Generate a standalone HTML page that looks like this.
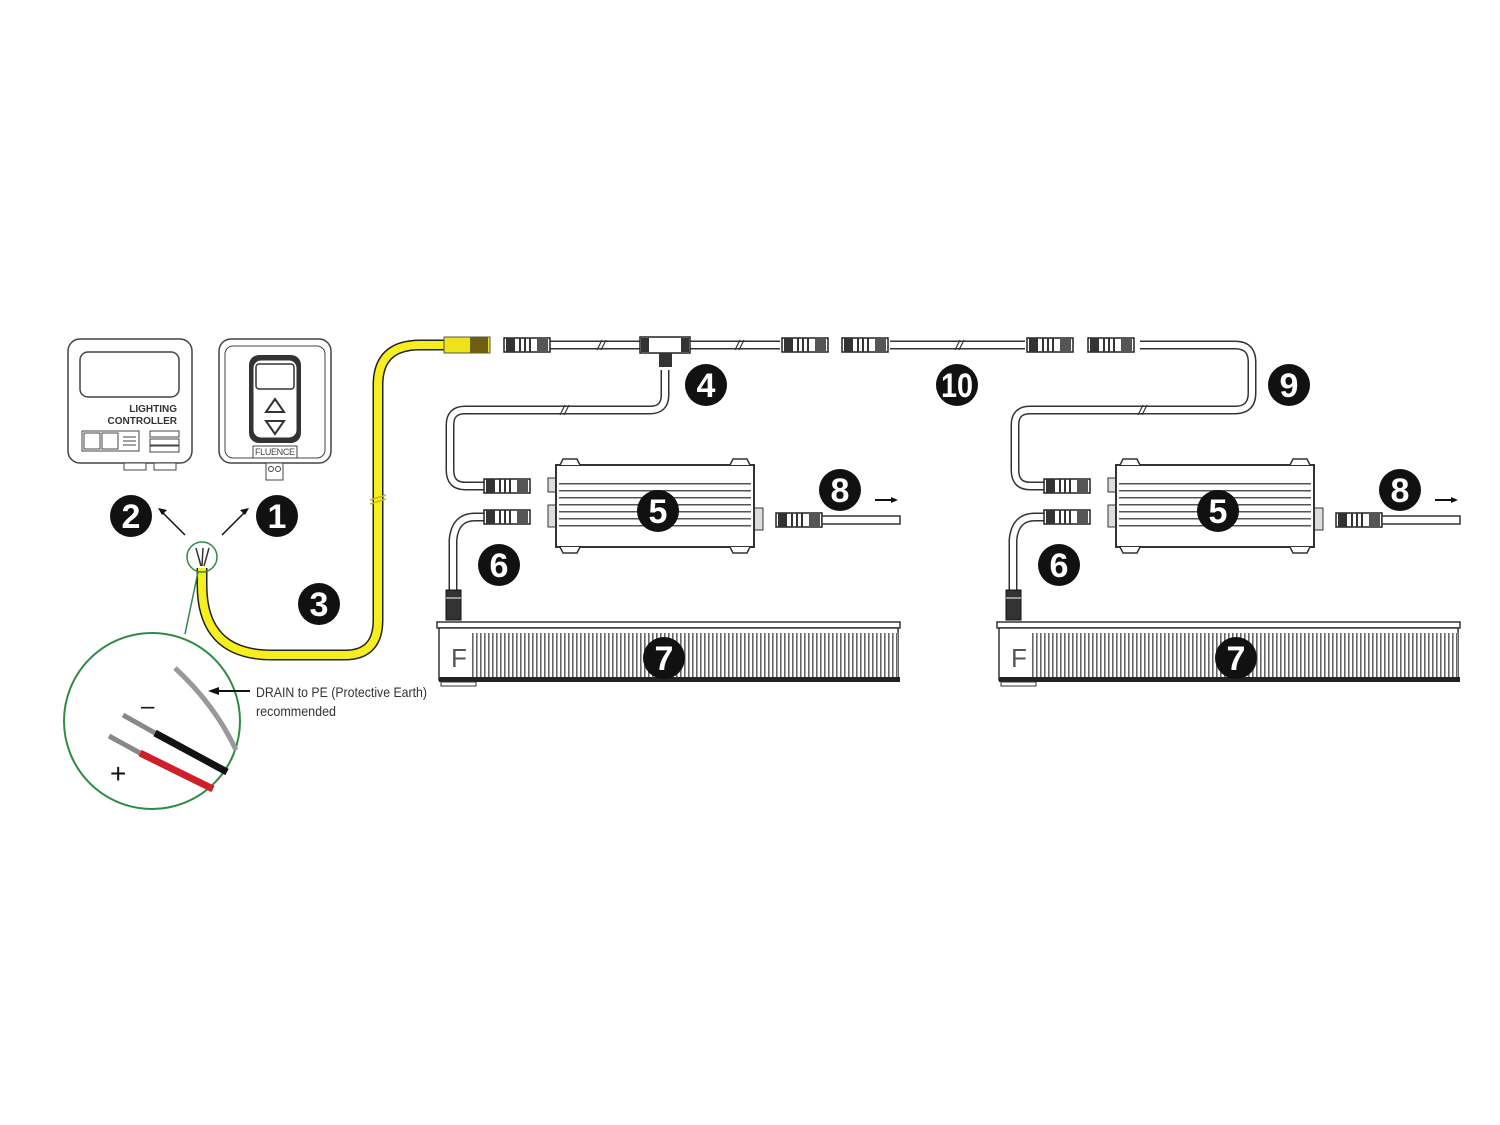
<!DOCTYPE html>
<html><head><meta charset="utf-8"><style>
html,body{margin:0;padding:0;background:#fff;}
svg{display:block;}
text{font-family:"Liberation Sans Narrow","Liberation Sans",sans-serif;}
</style></head><body>
<svg width="1500" height="1125" viewBox="0 0 1500 1125" xmlns="http://www.w3.org/2000/svg">
<defs>
<pattern id="fins" width="4" height="10" patternUnits="userSpaceOnUse"><rect width="4" height="10" fill="#fff"/><rect width="1.6" height="10" fill="#666"/></pattern>
<pattern id="hfins" width="10" height="7" patternUnits="userSpaceOnUse"><rect width="10" height="7" fill="#fff"/><rect width="10" height="1.5" fill="#555"/></pattern>
<g id="conn"><rect x="0" y="-7" width="46" height="14" fill="#fff" stroke="#222" stroke-width="1.5"/><rect x="2" y="-7" width="9" height="14" fill="#333"/><rect x="15" y="-7" width="2" height="14" fill="#333"/><rect x="20" y="-7" width="2" height="14" fill="#333"/><rect x="25" y="-7" width="2" height="14" fill="#333"/><rect x="33" y="-7" width="11" height="14" fill="#555"/></g>
<g id="badge"><circle r="21" fill="#111"/></g>
<g id="set">
 <use href="#conn" x="484" y="486"/>
 <!-- cable 6 -->
 <path d="M488,517 H475 Q455,517 453,540 V592" fill="none" stroke="#333" stroke-width="9"/>
 <path d="M488,517 H475 Q455,517 453,540 V592" fill="none" stroke="#fff" stroke-width="6"/>
 <use href="#conn" x="484" y="517"/>
 <rect x="446" y="590" width="15" height="30" fill="#333" stroke="#111"/>
 <line x1="446" y1="598" x2="461" y2="598" stroke="#fff"/>
 <!-- driver -->
 <rect x="548" y="478" width="9" height="14" fill="#ddd" stroke="#333"/>
 <rect x="548" y="505" width="9" height="22" fill="#ddd" stroke="#333"/>
 <rect x="754" y="508" width="9" height="22" fill="#ddd" stroke="#333"/>
 <rect x="556" y="465" width="198" height="82" fill="#fff" stroke="#333" stroke-width="2"/>
 <rect x="559" y="478" width="192" height="52" fill="url(#hfins)"/>
 <path d="M560,465 l3,-6 h14 l3,6 M730,465 l3,-6 h14 l3,6 M560,547 l3,6 h14 l3,-6 M730,547 l3,6 h14 l3,-6" fill="#fff" stroke="#333" stroke-width="1.5"/>
 <!-- output -->
 <use href="#conn" x="776" y="520"/>
 <rect x="822" y="516" width="78" height="8" fill="#fff" stroke="#333" stroke-width="1.5"/>
 <path d="M875,500 H895" stroke="#111" stroke-width="2"/><path d="M898,500 l-7,-3 v6z" fill="#111"/>
 <!-- fixture -->
 <rect x="437" y="622" width="463" height="6" fill="#fff" stroke="#333" stroke-width="1.5"/>
 <rect x="439" y="628" width="459" height="52" fill="#fff" stroke="#333" stroke-width="1.5"/>
 <rect x="470" y="633" width="428" height="44" fill="url(#fins)"/>
 <rect x="439" y="677" width="461" height="5" fill="#222"/>
 <rect x="441" y="682" width="35" height="4" fill="#fff" stroke="#333"/>
 <text x="451" y="667" font-size="26" fill="#555">F</text>
 <!-- badges -->
 <use href="#badge" x="658" y="511"/><text x="658" y="523" font-size="34" font-weight="bold" fill="#fff" text-anchor="middle">5</text>
 <use href="#badge" x="499" y="565"/><text x="499" y="577" font-size="34" font-weight="bold" fill="#fff" text-anchor="middle">6</text>
 <use href="#badge" x="840" y="490"/><text x="840" y="502" font-size="34" font-weight="bold" fill="#fff" text-anchor="middle">8</text>
</g>
</defs>

<!-- main trunk cable + drops -->
<path d="M540,345 H780 M890,345 H1025 M1140,345 H1235 Q1252,345 1252,362 V393 Q1252,410 1235,410 H1030 Q1015,410 1015,425 V470 Q1015,486 1030,486 H1045 M665,370 V395 Q665,410 650,410 H465 Q450,410 450,425 V470 Q450,486 465,486 H485" fill="none" stroke="#333" stroke-width="9"/>
<path d="M540,345 H780 M890,345 H1025 M1140,345 H1235 Q1252,345 1252,362 V393 Q1252,410 1235,410 H1030 Q1015,410 1015,425 V470 Q1015,486 1030,486 H1045 M665,370 V395 Q665,410 650,410 H465 Q450,410 450,425 V470 Q450,486 465,486 H485" fill="none" stroke="#fff" stroke-width="6"/>
<use href="#conn" x="504" y="345"/>
<use href="#conn" x="782" y="345"/>
<use href="#conn" x="842" y="345"/>
<use href="#conn" x="1027" y="345"/>
<use href="#conn" x="1088" y="345"/>
<!-- T -->
<rect x="640" y="337" width="50" height="16" fill="#fff" stroke="#222" stroke-width="1.5"/>
<rect x="641" y="338" width="8" height="14" fill="#333"/><rect x="681" y="338" width="8" height="14" fill="#333"/>
<rect x="659" y="353" width="13" height="14" fill="#333"/>
<path d="M597,350 l5,-10 M601,350 l5,-10 M735,350 l5,-10 M739,350 l5,-10 M955,350 l5,-10 M959,350 l5,-10 M560,415 l5,-10 M564,415 l5,-10 M1138,415 l5,-10 M1142,415 l5,-10" stroke="#333" stroke-width="1.2"/>

<use href="#set"/>
<use href="#set" x="560"/>

<!-- yellow cable -->
<path d="M202,568 V585 Q202,655 272,655 H345 Q378,655 378,620 V385 Q378,345 420,345 H446" fill="none" stroke="#222" stroke-width="11"/>
<path d="M202,568 V585 Q202,655 272,655 H345 Q378,655 378,620 V385 Q378,345 420,345 H446" fill="none" stroke="#f7ee1e" stroke-width="8"/>
<rect x="444" y="337" width="46" height="16" fill="#f0e21a" stroke="#555"/>
<rect x="470" y="337" width="18" height="16" fill="#6b6010"/>
<path d="M370,500 l16,-5 M370,504 l16,-5" stroke="#c9b800" stroke-width="1.5"/>

<!-- controller -->
<rect x="68" y="339" width="124" height="124" rx="12" fill="#fff" stroke="#444" stroke-width="1.5"/>
<rect x="80" y="352" width="99" height="45" rx="8" fill="#fff" stroke="#444" stroke-width="1.5"/>
<text x="177" y="412" font-size="10" font-weight="bold" text-anchor="end" fill="#333" style="font-family:'Liberation Sans',sans-serif">LIGHTING</text>
<text x="177" y="424" font-size="10" font-weight="bold" text-anchor="end" fill="#333" style="font-family:'Liberation Sans',sans-serif">CONTROLLER</text>
<rect x="82" y="431" width="57" height="20" fill="#fff" stroke="#444"/>
<rect x="84" y="433" width="16" height="16" fill="#fff" stroke="#444"/><rect x="102" y="433" width="16" height="16" fill="#fff" stroke="#444"/>
<path d="M123,437 h13 M123,441 h13 M123,445 h13" stroke="#444"/>
<rect x="150" y="431" width="29" height="6" fill="#fff" stroke="#444"/><rect x="150" y="439" width="29" height="6" fill="#fff" stroke="#444"/><rect x="150" y="446" width="29" height="6" fill="#fff" stroke="#444"/>
<rect x="124" y="463" width="22" height="7" fill="#fff" stroke="#444"/><rect x="154" y="463" width="22" height="7" fill="#fff" stroke="#444"/>

<!-- fluence -->
<rect x="219" y="339" width="112" height="124" rx="12" fill="#fff" stroke="#444" stroke-width="1.5"/>
<rect x="225" y="346" width="100" height="112" rx="8" fill="#fff" stroke="#444"/>
<rect x="249" y="355" width="52" height="88" rx="10" fill="#333"/>
<rect x="253" y="360" width="44" height="78" rx="8" fill="#fff" stroke="#333"/>
<rect x="256" y="364" width="38" height="25" rx="3" fill="#fff" stroke="#333" stroke-width="1.5"/>
<path d="M275,399 l-9,13 h18z M275,434 l-9,-13 h18z" fill="#fff" stroke="#333" stroke-width="2"/>
<rect x="253" y="446" width="44" height="12" fill="#fff" stroke="#444"/>
<text x="275" y="455" font-size="9" text-anchor="middle" fill="#444" textLength="40">FLUENCE</text>
<rect x="266" y="463" width="17" height="17" fill="#fff" stroke="#444"/>
<circle cx="271" cy="469" r="2.5" fill="none" stroke="#444"/><circle cx="278" cy="469" r="2.5" fill="none" stroke="#444"/>

<!-- arrows 1,2 -->
<path d="M185,535 L162,512" stroke="#111" stroke-width="1.5"/><path d="M158,508 l9,2 -5,5z" fill="#111"/>
<path d="M222,535 L245,512" stroke="#111" stroke-width="1.5"/><path d="M249,508 l-9,2 5,5z" fill="#111"/>

<!-- zoom circles -->
<circle cx="202" cy="557" r="15" fill="none" stroke="#2f8a44" stroke-width="1.5"/>
<path d="M196,548 l5,18 M203,548 l-1,18 M209,548 l-5,18" stroke="#333" stroke-width="1.5"/>
<line x1="198" y1="572" x2="185" y2="634" stroke="#2f8a44" stroke-width="1.5"/>
<circle cx="152" cy="721" r="88" fill="#fff" stroke="#2f8a44" stroke-width="2"/>
<path d="M175,668 Q215,705 236,750" fill="none" stroke="#999" stroke-width="5"/>
<path d="M123,715 L155,733" stroke="#888" stroke-width="5"/><path d="M155,733 L227,772" stroke="#111" stroke-width="7"/>
<path d="M109,736 L140,753" stroke="#888" stroke-width="5"/><path d="M140,753 L213,789" stroke="#d01e2a" stroke-width="7"/>
<text x="141" y="714" font-size="24" fill="#111" style="font-family:'Liberation Sans',sans-serif">–</text>
<text x="110" y="783" font-size="28" fill="#111" style="font-family:'Liberation Sans',sans-serif">+</text>
<path d="M250,691 H216" stroke="#111" stroke-width="2"/><path d="M208,691 l11,-4 v8z" fill="#111"/>
<text x="256" y="697" font-size="14" fill="#333" textLength="171" lengthAdjust="spacingAndGlyphs">DRAIN to PE (Protective Earth)</text>
<text x="256" y="716" font-size="14" fill="#333" textLength="80" lengthAdjust="spacingAndGlyphs">recommended</text>

<!-- badges global -->
<g font-size="34" font-weight="bold" fill="#fff" text-anchor="middle">
<use href="#badge" x="277" y="516"/><text x="277" y="528">1</text>
<use href="#badge" x="131" y="516"/><text x="131" y="528">2</text>
<use href="#badge" x="319" y="604"/><text x="319" y="616">3</text>
<use href="#badge" x="706" y="385"/><text x="706" y="397">4</text>
<use href="#badge" x="957" y="385"/><text x="957" y="397" textLength="32" lengthAdjust="spacingAndGlyphs">10</text>
<use href="#badge" x="1289" y="385"/><text x="1289" y="397">9</text>
<use href="#badge" x="664" y="658"/><text x="664" y="670">7</text>
<use href="#badge" x="1236" y="658"/><text x="1236" y="670">7</text>
</g>
</svg>
</body></html>
